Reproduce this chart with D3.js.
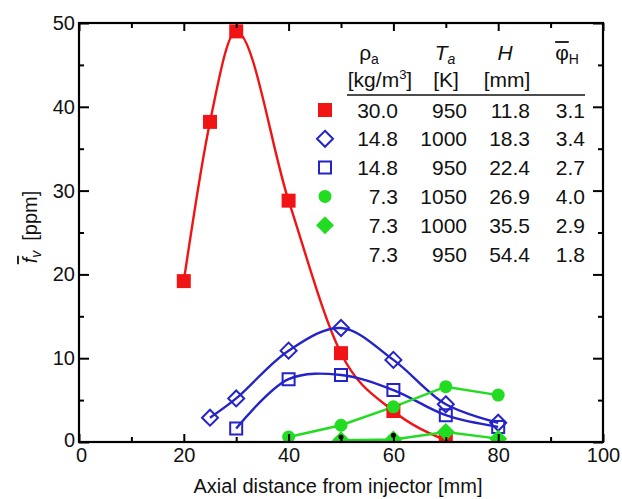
<!DOCTYPE html>
<html><head><meta charset="utf-8">
<script src="https://cdn.jsdelivr.net/npm/d3@7"></script>
<style>
body{margin:0;background:#fff}
svg{font-family:"Liberation Sans",Arial,Helvetica,sans-serif;display:block}
</style></head><body>
<svg id="chart" width="622" height="499"></svg>
<script>
// Axial measurement positions [mm] and mean soot volume fraction [ppm] per condition
const xRho30T950 = [20, 25, 30, 40, 50, 60, 70];
const fvRho30T950 = [19.2, 38.2, 49.0, 28.8, 10.6, 3.7, 0.2];
const xRho148T1000 = [25, 30, 40, 50, 60, 70, 80];
const fvRho148T1000 = [2.9, 5.2, 10.9, 13.6, 9.8, 4.5, 2.3];
const xRho148T950 = [30, 40, 50, 60, 70, 80];
const fvRho148T950 = [1.6, 7.5, 8.0, 6.2, 3.2, 1.8];
const xRho73T1050 = [40, 50, 60, 70, 80];
const fvRho73T1050 = [0.6, 2.0, 4.2, 6.6, 5.6];
const xRho73T1000 = [50, 60, 70, 80];
const fvRho73T1000 = [0.2, 0.3, 1.2, 0.4];
const xRho73T950 = [50, 60];
const fvRho73T950 = [0.6, 0.8];

const xTicks = [0, 20, 40, 60, 80, 100];
const xMinorTicks = [10, 30, 50, 70, 90];
const yTicks = [0, 10, 20, 30, 40, 50];
const yMinorTicks = [5, 15, 25, 35, 45];

// Legend table columns
const rhoLabels = ["30.0", "14.8", "14.8", "7.3", "7.3", "7.3"];
const tempLabels = ["950", "1000", "950", "1050", "1000", "950"];
const heightLabels = ["11.8", "18.3", "22.4", "26.9", "35.5", "54.4"];
const phiLabels = ["3.1", "3.4", "2.7", "4.0", "2.9", "1.8"];

const RED = "#f01414", BLUE = "#2323c8", GREEN = "#22dc22";

const zip = (xs, ys) => xs.map((v, i) => ({x: v, y: ys[i]}));
const series = [
  {pts: zip(xRho30T950, fvRho30T950), color: RED, marker: "square", filled: true, curve: d3.curveMonotoneX},
  {pts: zip(xRho148T1000, fvRho148T1000), color: BLUE, marker: "diamond", filled: false, curve: d3.curveCatmullRom.alpha(0.5)},
  {pts: zip(xRho148T950, fvRho148T950), color: BLUE, marker: "square", filled: false, curve: d3.curveCatmullRom.alpha(0.5)},
  {pts: zip(xRho73T1050, fvRho73T1050), color: GREEN, marker: "circle", filled: true, curve: d3.curveLinear},
  {pts: zip(xRho73T1000, fvRho73T1000), color: GREEN, marker: "diamond", filled: true, curve: d3.curveLinear},
  {pts: zip(xRho73T950, fvRho73T950), color: "#000", marker: "dot", filled: true, curve: null}
];

const svg = d3.select("#chart");
const L = 79, R = 603, T = 23, B = 442;
const x = d3.scaleLinear().domain([0, 100]).range([L, R]);
const y = d3.scaleLinear().domain([0, 50]).range([B, T]);

// marker outlines, centred on the origin
function markerPath(type, open) {
  const s = open ? 6 : 7;
  if (type === "square") return `M${-s},${-s}H${s}V${s}H${-s}Z`;
  if (type === "diamond") { const r = s + 2; return `M0,${-r}L${r},0L0,${r}L${-r},0Z`; }
  if (type === "circle") { const r = 6.5; return `M${r},0A${r},${r} 0 1 1 ${-r},0A${r},${r} 0 1 1 ${r},0Z`; }
  if (type === "dot") { const r = 2.5; return `M${r},0A${r},${r} 0 1 1 ${-r},0A${r},${r} 0 1 1 ${r},0Z`; }
  return "";
}
function styleMarker(sel, s) {
  sel.attr("d", markerPath(s.marker, !s.filled))
    .attr("fill", s.filled ? s.color : "none")
    .attr("stroke", s.color)
    .attr("stroke-width", s.filled ? 0 : 2);
}

// plot area clip
svg.append("defs").append("clipPath").attr("id", "plotClip")
  .append("rect").attr("x", L).attr("y", T).attr("width", R - L).attr("height", B - T);

const plot = svg.append("g").attr("clip-path", "url(#plotClip)");

series.forEach(s => {
  if (!s.curve) return;
  const line = d3.line().x(d => x(d.x)).y(d => y(d.y)).curve(s.curve);
  plot.append("path").datum(s.pts).attr("d", line)
    .attr("fill", "none").attr("stroke", s.color).attr("stroke-width", 2.4);
});
series.forEach(s => {
  plot.selectAll(null).data(s.pts).enter().append("path")
    .attr("transform", d => `translate(${x(d.x)},${y(d.y)})`)
    .call(sel => styleMarker(sel, s));
});

// axes with inward ticks on all four sides
function axis(gen, values, size, transform, labels) {
  const g = svg.append("g").attr("transform", transform)
    .call(gen.tickValues(values).tickSize(-size).tickPadding(labels ? 6 : 0)
      .tickFormat(labels ? d3.format("d") : () => ""));
  g.select(".domain").remove();
  g.selectAll(".tick line").attr("stroke", "#000").attr("stroke-width", 2);
  g.selectAll("text").attr("font-size", 20).attr("fill", "#111");
  return g;
}
const xb = axis(d3.axisBottom(x), xTicks, 8, `translate(0,${B})`, true);
xb.selectAll("text").attr("y", 6).attr("x", d => d === 0 ? 2 : 0);
axis(d3.axisBottom(x), xMinorTicks, 5, `translate(0,${B})`, false);
axis(d3.axisTop(x), xTicks, 8, `translate(0,${T})`, false);
axis(d3.axisTop(x), xMinorTicks, 5, `translate(0,${T})`, false);
const yl = axis(d3.axisLeft(y), yTicks, 10, `translate(${L},0)`, true);
yl.selectAll("text").attr("x", -4).attr("dy", d => d === 0 ? "0.2em" : "0.32em");
axis(d3.axisLeft(y), yMinorTicks, 5, `translate(${L},0)`, false);
axis(d3.axisRight(y), yTicks, 10, `translate(${R},0)`, false);
axis(d3.axisRight(y), yMinorTicks, 5, `translate(${R},0)`, false);

svg.append("rect").attr("x", L).attr("y", T).attr("width", R - L).attr("height", B - T)
  .attr("fill", "none").attr("stroke", "#000").attr("stroke-width", 2.2);

// axis titles
svg.append("text").attr("x", (L + R) / 2 - 3).attr("y", 493).attr("text-anchor", "middle")
  .attr("font-size", 20).attr("fill", "#111").text("Axial distance from injector [mm]");

const yt = svg.append("g").attr("transform", "translate(37,227) rotate(-90)");
const ytText = yt.append("text").attr("text-anchor", "middle").attr("font-size", 20).attr("fill", "#111");
ytText.append("tspan").attr("font-style", "italic").text("f");
ytText.append("tspan").attr("font-style", "italic").attr("font-size", 14).attr("dy", 4).text("v");
ytText.append("tspan").attr("dy", -4).text("\u2002[ppm]");
{
  const e = ytText.node().getExtentOfChar(0);
  yt.append("line").attr("x1", e.x - 1).attr("x2", e.x + e.width + 2)
    .attr("y1", e.y - 1).attr("y2", e.y - 1).attr("stroke", "#111").attr("stroke-width", 1.8);
}

// legend table
const lg = svg.append("g").attr("font-size", 21).attr("fill", "#111");
const colRight = [398, 467, 530, 585];
const rowY = i => 110 + i * 28.8;

// header line 1
const h1 = lg.append("text").attr("x", 369).attr("y", 60).attr("text-anchor", "middle");
h1.append("tspan").text("\u03c1");
h1.append("tspan").attr("font-size", 14).attr("dy", 4).text("a");
const h2 = lg.append("text").attr("x", 445).attr("y", 60).attr("text-anchor", "middle");
h2.append("tspan").attr("font-style", "italic").text("T");
h2.append("tspan").attr("font-style", "italic").attr("font-size", 14).attr("dy", 4).text("a");
lg.append("text").attr("x", 505).attr("y", 60).attr("text-anchor", "middle")
  .attr("font-style", "italic").text("H");
const h4 = lg.append("text").attr("x", 567).attr("y", 60).attr("text-anchor", "middle");
h4.append("tspan").text("\u03c6");
h4.append("tspan").attr("font-size", 14).attr("dy", 4).text("H");
{
  const e = h4.node().getExtentOfChar(0);
  lg.append("line").attr("x1", e.x).attr("x2", e.x + e.width)
    .attr("y1", e.y + 1).attr("y2", e.y + 1).attr("stroke", "#111").attr("stroke-width", 1.8);
}
// header line 2 (units)
const u1 = lg.append("text").attr("x", 380).attr("y", 87).attr("text-anchor", "middle");
u1.append("tspan").text("[kg/m");
u1.append("tspan").attr("font-size", 13).attr("dy", -8).text("3");
u1.append("tspan").attr("dy", 8).text("]");
lg.append("text").attr("x", 446).attr("y", 87).attr("text-anchor", "middle").text("[K]");
lg.append("text").attr("x", 507).attr("y", 87).attr("text-anchor", "middle").text("[mm]");

lg.append("line").attr("x1", 347).attr("x2", 585).attr("y1", 95).attr("y2", 95)
  .attr("stroke", "#111").attr("stroke-width", 1.6);

[rhoLabels, tempLabels, heightLabels, phiLabels].forEach((col, c) => {
  lg.selectAll(null).data(col).enter().append("text")
    .attr("x", colRight[c]).attr("y", (d, i) => rowY(i) + 7.5)
    .attr("text-anchor", "end").text(d => d);
});
series.forEach((s, i) => {
  if (s.marker === "dot") return;
  lg.append("path").attr("transform", `translate(325,${rowY(i)})`)
    .call(sel => styleMarker(sel, s));
});
</script>
</body></html>
